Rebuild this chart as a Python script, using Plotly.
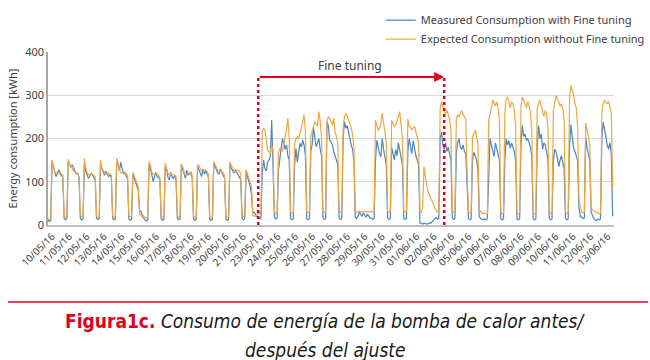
import pandas as pd
import plotly.graph_objects as go

# ---- data (2-hourly samples, 12 per day, 10/05/16 .. 13/06/16) ----
start = "2016-05-10 00:00"
samples_per_day = 12
n_days = 35

expected = [
    15, 12, 14, 150, 138, 122, 118, 120, 119, 122, 118, 115,   # 10/05
    20, 17, 19, 152, 140, 135, 128, 125, 122, 120, 118, 112,   # 11/05
    22, 19, 20, 155, 132, 122, 116, 115, 118, 117, 115, 112,   # 12/05
    20, 18, 19, 150, 132, 125, 120, 118, 119, 120, 118, 115,   # 13/05
    21, 18, 20, 155, 142, 128, 122, 120, 124, 122, 118, 115,   # 14/05
    22, 19, 20, 122, 112, 105, 98, 88, 25, 22, 24, 20,         # 15/05
    18, 16, 18, 147, 138, 122, 118, 116, 120, 118, 115, 110,   # 16/05
    20, 17, 19, 143, 133, 120, 116, 118, 117, 116, 115, 112,   # 17/05
    21, 18, 20, 141, 135, 122, 115, 117, 119, 118, 124, 115,   # 18/05
    20, 18, 19, 140, 138, 130, 125, 124, 126, 127, 124, 118,   # 19/05
    19, 17, 18, 147, 140, 132, 126, 123, 125, 124, 120, 115,   # 20/05
    20, 18, 19, 146, 138, 130, 124, 122, 126, 127, 124, 118,   # 21/05
    22, 20, 21, 128, 118, 110, 100, 90, 22, 21, 20, 22,        # 22/05
    28, 26, 27, 216, 223, 220, 200, 172, 170, 165, 185, 170,   # 23/05
    30, 27, 28, 166, 177, 172, 170, 189, 205, 220, 247, 200,   # 24/05
    31, 28, 29, 189, 200, 204, 200, 210, 224, 240, 255, 215,   # 25/05
    31, 29, 30, 205, 219, 227, 239, 232, 230, 262, 240, 200,   # 26/05
    32, 29, 30, 240, 251, 247, 239, 231, 247, 215, 205, 190,   # 27/05
    32, 30, 31, 225, 250, 258, 252, 245, 235, 225, 210, 180,   # 28/05
    32, 30, 31, 32, 30, 31, 30, 32, 31, 30, 31, 30,            # 29/05
    32, 30, 31, 242, 230, 219, 222, 235, 259, 240, 215, 190,   # 30/05
    32, 30, 31, 242, 235, 228, 232, 240, 250, 262, 235, 200,   # 31/05
    33, 30, 31, 245, 230, 223, 220, 225, 228, 215, 205, 190,   # 01/06
    30, 29, 40, 135, 110, 90, 77, 70, 62, 55, 50, 42,          # 02/06
    33, 30, 31, 270, 285, 275, 262, 258, 265, 255, 245, 220,   # 03/06
    33, 30, 31, 245, 255, 250, 260, 265, 255, 250, 246, 120,   # 04/06
    30, 28, 29, 204, 212, 219, 205, 190, 35, 30, 28, 27,       # 05/06
    27, 25, 26, 242, 255, 270, 289, 281, 275, 285, 270, 240,   # 06/06
    28, 26, 27, 260, 293, 296, 280, 270, 285, 280, 265, 230,   # 07/06
    28, 26, 27, 275, 296, 290, 281, 270, 285, 275, 260, 220,   # 08/06
    28, 26, 27, 270, 281, 289, 275, 259, 251, 265, 255, 225,   # 09/06
    29, 27, 28, 265, 285, 300, 290, 285, 275, 280, 270, 240,   # 10/06
    29, 27, 28, 289, 323, 312, 300, 281, 270, 230, 60, 40,     # 11/06
    30, 28, 30, 236, 215, 204, 185, 40, 35, 32, 30, 28,        # 12/06
    28, 26, 27, 260, 281, 289, 283, 281, 285, 270, 260, 85,    # 13/06
]

measured = [
    12, 8, 10, 148, 136, 126, 112, 120, 128, 118, 115, 110,    # 10/05
    14, 12, 15, 148, 142, 135, 138, 130, 125, 118, 120, 110,   # 11/05
    15, 12, 14, 140, 125, 118, 108, 112, 120, 115, 110, 105,   # 12/05
    16, 13, 15, 145, 130, 120, 115, 124, 118, 112, 116, 110,   # 13/05
    15, 12, 14, 150, 140, 125, 145, 130, 118, 122, 112, 108,   # 14/05
    14, 11, 13, 118, 108, 100, 92, 80, 30, 32, 20, 15,         # 15/05
    12, 10, 12, 140, 130, 118, 100, 115, 122, 112, 110, 105,   # 16/05
    14, 11, 13, 135, 128, 110, 104, 122, 112, 108, 115, 105,   # 17/05
    15, 12, 14, 138, 130, 118, 108, 127, 115, 120, 118, 110,   # 18/05
    14, 11, 13, 136, 128, 120, 112, 130, 118, 125, 120, 112,   # 19/05
    13, 11, 12, 143, 135, 128, 120, 118, 130, 122, 116, 108,   # 20/05
    14, 11, 13, 140, 132, 125, 120, 128, 122, 118, 112, 105,   # 21/05
    15, 12, 14, 125, 112, 100, 90, 70, 28, 30, 25, 18,         # 22/05
    18, 14, 16, 120, 150, 130, 125, 145, 150, 160, 243, 150,   # 23/05
    18, 14, 16, 127, 160, 177, 200, 189, 175, 185, 160, 150,   # 24/05
    15, 12, 14, 139, 177, 146, 165, 189, 180, 196, 185, 160,   # 25/05
    15, 12, 14, 170, 185, 227, 200, 181, 190, 200, 175, 160,   # 26/05
    16, 13, 15, 239, 230, 196, 193, 185, 170, 160, 150, 140,   # 27/05
    16, 13, 15, 200, 239, 224, 230, 210, 200, 185, 175, 150,   # 28/05
    18, 15, 20, 30, 24, 20, 28, 22, 18, 25, 20, 16,            # 29/05
    16, 13, 15, 150, 196, 180, 165, 158, 200, 175, 160, 140,   # 30/05
    16, 13, 15, 180, 165, 150, 175, 160, 190, 170, 155, 140,   # 31/05
    16, 13, 15, 170, 200, 185, 165, 195, 175, 160, 150, 140,   # 01/06
    5, 3, 2, 4, 3, 2, 3, 5, 4, 8, 10, 14,                      # 02/06
    17, 13, 15, 200, 215, 185, 175, 190, 170, 180, 165, 150,   # 03/06
    17, 13, 15, 165, 190, 200, 180, 175, 185, 170, 165, 90,    # 04/06
    15, 12, 14, 150, 168, 160, 150, 130, 20, 15, 14, 12,       # 05/06
    14, 12, 14, 140, 200, 185, 170, 158, 190, 175, 165, 150,   # 06/06
    14, 12, 14, 150, 200, 185, 195, 178, 190, 180, 170, 150,   # 07/06
    14, 12, 14, 190, 230, 205, 210, 195, 200, 190, 180, 160,   # 08/06
    14, 12, 14, 180, 230, 200, 210, 175, 190, 185, 170, 150,   # 09/06
    15, 12, 14, 150, 175, 170, 155, 135, 150, 160, 145, 130,   # 10/06
    15, 12, 14, 180, 232, 200, 178, 170, 160, 150, 40, 20,     # 11/06
    18, 15, 16, 204, 178, 165, 150, 30, 20, 15, 12, 10,        # 12/06
    14, 12, 14, 200, 238, 215, 204, 185, 175, 190, 165, 20,    # 13/06
]

tick_labels = [
    "10/05/16", "11/05/16", "12/05/16", "13/05/16", "14/05/16", "15/05/16",
    "16/05/16", "17/05/16", "18/05/16", "19/05/16", "20/05/16", "21/05/16",
    "23/05/16", "24/05/16", "25/05/16", "26/05/16", "27/05/16", "28/05/16",
    "29/05/16", "30/05/16", "31/05/16", "01/06/16", "02/06/16", "03/06/16",
    "05/06/16", "06/06/16", "07/06/16", "08/06/16", "09/06/16", "10/06/16",
    "11/06/16", "12/06/16", "13/06/16",
]

series_names = ["Measured Consumption with Fine tuning",
                "Expected Consumption without Fine tuning"]
fine_tuning_start = "2016-05-23 00:00"
fine_tuning_end = "2016-06-03 12:00"
fine_tuning_level = 342

# ---- build ----
t0 = pd.Timestamp(start)
times = pd.date_range(t0, periods=n_days * samples_per_day, freq="2h")
tick_pos = [t0 + pd.Timedelta(hours=5.9 + 25.78 * i) for i in range(len(tick_labels))]

BLUE = "#4a86c5"
ORANGE = "#f2a640"
RED = "#e2001a"
TXT = "#404040"

fig = go.Figure()
fig.add_trace(go.Scatter(x=times, y=measured, mode="lines", name=series_names[0],
                         line=dict(color=BLUE, width=1.2)))
fig.add_trace(go.Scatter(x=times, y=expected, mode="lines", name=series_names[1],
                         line=dict(color=ORANGE, width=1.2)))

# fine tuning markers
for xv in (fine_tuning_start, fine_tuning_end):
    fig.add_shape(type="line", xref="x", yref="y", x0=xv, x1=xv, y0=0, y1=fine_tuning_level,
                  line=dict(color=RED, width=2.5, dash="dot"))
fig.add_annotation(x=pd.Timestamp(fine_tuning_end), y=fine_tuning_level,
                   ax=pd.Timestamp(fine_tuning_start), ay=fine_tuning_level,
                   xref="x", yref="y", axref="x", ayref="y", text="",
                   showarrow=True, arrowhead=2, arrowsize=1, arrowwidth=2, arrowcolor=RED)
fig.add_annotation(x=pd.Timestamp("2016-05-28 16:00"), y=368, xref="x", yref="y",
                   text="Fine tuning", showarrow=False,
                   font=dict(family="Noto Sans, sans-serif", size=12, color=TXT))

# y axis title
fig.add_annotation(x=-0.062, y=0.5, xref="paper", yref="paper", text="Energy consumption [kWh]",
                   textangle=-90, showarrow=False, xanchor="center", yanchor="middle",
                   font=dict(family="Noto Sans, sans-serif", size=11, color=TXT))

# caption
fig.add_shape(type="line", xref="paper", yref="paper", x0=-0.0707, x1=1.06, y0=-0.445, y1=-0.445,
              line=dict(color=RED, width=1.5))
cap_font = "Liberation Sans Narrow, DejaVu Sans Condensed, Arial Narrow, sans-serif"
fig.add_annotation(x=0.491, y=-0.555, xref="paper", yref="paper", showarrow=False,
                   text="<b><span style='color:%s'>Figura1c.</span></b> <i>Consumo de energía de la bomba de calor antes/</i>" % RED,
                   font=dict(family=cap_font, size=19, color="#1a1a1a"), yanchor="middle")
fig.add_annotation(x=0.491, y=-0.723, xref="paper", yref="paper", showarrow=False,
                   text="<i>después del ajuste</i>",
                   font=dict(family=cap_font, size=19, color="#1a1a1a"), yanchor="middle")

fig.update_layout(
    width=650, height=360,
    margin=dict(l=48, r=36, t=52, b=135, autoexpand=False),
    paper_bgcolor="white", plot_bgcolor="white",
    font=dict(family="Noto Sans, sans-serif", color=TXT),
    showlegend=True,
    legend=dict(x=0.588, y=1.268, xanchor="left", yanchor="top",
                font=dict(size=11, color=TXT), bgcolor="rgba(0,0,0,0)",
                itemwidth=30, tracegroupgap=0),
    xaxis=dict(range=[t0, t0 + pd.Timedelta(hours=24 * n_days)],
               tickmode="array", tickvals=tick_pos, ticktext=tick_labels,
               tickangle=-45, tickfont=dict(size=10, color=TXT),
               showgrid=False, showline=True, linecolor="#bfbfbf", linewidth=1.5,
               ticks="", zeroline=False, automargin=False),
    yaxis=dict(range=[0, 400], dtick=100, tickfont=dict(size=11, color=TXT),
               showgrid=True, gridcolor="#d9d9d9", gridwidth=1,
               showline=True, linecolor="#a6a6a6", linewidth=1.5,
               ticks="", zeroline=False, automargin=False),
)

fig.write_html("out.html", config={"displayModeBar": False},
               post_script="document.body.style.margin='0';document.body.style.overflow='hidden';")
